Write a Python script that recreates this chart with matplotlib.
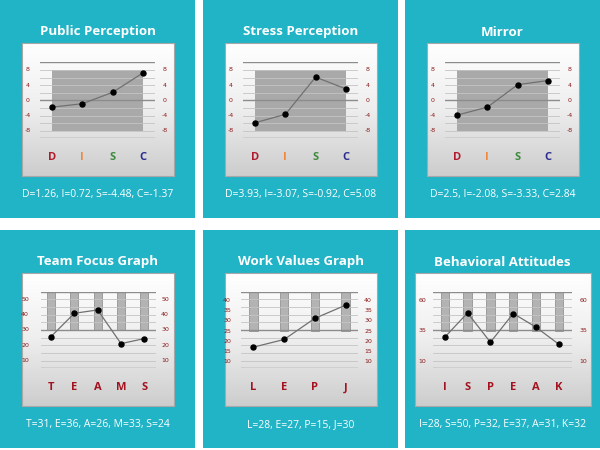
import numpy as np
import matplotlib
matplotlib.use("Agg")
import matplotlib.pyplot as plt
from matplotlib.patches import Rectangle
from matplotlib.transforms import blended_transform_factory

# ---- data ----
disc_letters = ["D", "I", "S", "C"]
disc_colors = ["#b01c2e", "#f0883a", "#3d8a3d", "#2b2b8f"]
disc_ticks = [8, 4, 0, -4, -8]

public_vals = [-1.8, -0.9, 2.1, 7.2]
stress_vals = [-5.9, -3.7, 6.1, 3.0]
mirror_vals = [-3.9, -1.8, 4.1, 5.2]

team_letters = ["T", "E", "A", "M", "S"]
team_vals = [25.7, 40.9, 43.1, 21.1, 24.4]
team_ticks = [50, 40, 30, 20, 10]

work_letters = ["L", "E", "P", "J"]
work_vals = [17.0, 20.8, 31.3, 37.8]
work_ticks = [40, 35, 30, 25, 20, 15, 10]

behav_letters = ["I", "S", "P", "E", "A", "K"]
behav_vals = [29.8, 49.9, 25.7, 49.4, 38.1, 24.0]
behav_ticks = [60, 35, 10]

titles = ["Public Perception", "Stress Perception", "Mirror",
          "Team Focus Graph", "Work Values Graph", "Behavioral Attitudes"]
captions = ["D=1.26, I=0.72, S=-4.48, C=-1.37",
            "D=3.93, I=-3.07, S=-0.92, C=5.08",
            "D=2.5, I=-2.08, S=-3.33, C=2.84",
            "T=31, E=36, A=26, M=33, S=24",
            "L=28, E=27, P=15, J=30",
            "I=28, S=50, P=32, E=37, A=31, K=32"]

TEAL = "#21b3c6"
TICK_RED = "#8b1a1a"
LETTER_RED = "#a3121f"

W, H = 600, 450
fig = plt.figure(figsize=(6, 4.5), dpi=100)
fig.patch.set_facecolor("white")


def px(x, y, w, h):
    return [x / W, 1 - (y + h) / H, w / W, h / H]


def panel(col_x, row_y, width, height, title, caption):
    fig.patches.append(Rectangle((col_x / W, 1 - (row_y + height) / H),
                                 width / W, height / H,
                                 transform=fig.transFigure,
                                 facecolor=TEAL, edgecolor="none", zorder=-5))
    fig.text((col_x + width / 2) / W, 1 - (row_y + 32) / H, title,
             color="white", fontsize=9.5, fontweight="bold",
             family="Open Sans", ha="center", va="center")
    fig.text((col_x + width / 2) / W, 1 - (row_y + 195) / H, caption,
             color="white", fontsize=7.5, family="Open Sans",
             ha="center", va="center")


def chart_box(x, y, w, h):
    bx = fig.add_axes(px(x, y, w, h))
    grad = np.linspace(0, 1, 200).reshape(-1, 1)
    bx.imshow(grad, aspect="auto", cmap=matplotlib.colors.LinearSegmentedColormap
              .from_list("g", ["#ffffff", "#eeeeee", "#cdcdcd"]),
              extent=(0, 1, 0, 1))
    bx.set_xlim(0, 1)
    bx.set_ylim(0, 1)
    for sp in bx.spines.values():
        sp.set_color("#a8a8a8")
        sp.set_linewidth(0.8)
    bx.set_xticks([])
    bx.set_yticks([])


def data_axes(x, y, w, h, xlim, ylim):
    ax = fig.add_axes(px(x, y, w, h))
    ax.set_facecolor("none")
    ax.set_xlim(*xlim)
    ax.set_ylim(*ylim)
    ax.axis("off")
    return ax


def grid_lines(ax, ylim, x0, x1):
    lo, hi = ylim
    for k in range(11):
        yv = lo + (hi - lo) * k / 10
        major = k in (0, 5, 10)
        ax.plot([x0, x1], [yv, yv], color="#8c8c8c" if major else "#c4c4c4",
                lw=1.0 if major else 0.6, zorder=3 if major else 2)


def tick_labels(ax, ticks, left_px, right_px, ax_x, ax_w):
    tr = blended_transform_factory(ax.transAxes, ax.transData)
    for t in ticks:
        for p in (left_px, right_px):
            ax.text((p - ax_x) / ax_w, t, str(t), transform=tr,
                    color=TICK_RED, fontsize=4.5, ha="center", va="center",
                    clip_on=False)


def line_points(ax, vals):
    xs = np.arange(len(vals))
    ax.plot(xs, vals, color="#707070", lw=0.9, zorder=5, clip_on=False)
    ax.plot(xs, vals, "o", color="black", ms=3.6, zorder=6, clip_on=False)


# ---- top row (DISC) ----
top_cols = [0, 203, 405]
top_vals = [public_vals, stress_vals, mirror_vals]
for i in range(3):
    cx = top_cols[i]
    panel(cx, 0, 195, 217.5, titles[i], captions[i])
    chart_box(cx + 22, 43, 152, 133)
    ax_x, ax_w = cx + 40, 115
    ylim = (-10, 10)
    xlim = (-0.4, 3.4)
    ax = data_axes(ax_x, 62.3, ax_w, 76, xlim, ylim)
    ax.add_patch(Rectangle((0, -8), 3, 16, facecolor="#a9a9a9",
                           edgecolor="none", zorder=1))
    grid_lines(ax, ylim, *xlim)
    tick_labels(ax, disc_ticks, cx + 28, cx + 165, ax_x, ax_w)
    line_points(ax, top_vals[i])
    trx = blended_transform_factory(ax.transData, fig.transFigure)
    for k, (lt, lc) in enumerate(zip(disc_letters, disc_colors)):
        ax.text(k, 1 - 157 / H, lt, transform=trx, color=lc, fontsize=8,
                fontweight="bold", family="Open Sans", ha="center",
                va="center")

# ---- bottom row ----
bottom = [
    (0, team_letters, team_vals, team_ticks, 30, (5, 55),
     22, 152, 40.5, 115.5, (-0.45, 4.5), 25, 165, 0.35),
    (203, work_letters, work_vals, work_ticks, 25, (6.5, 44.5),
     22, 152, 37.5, 118, (-0.42, 3.42), 24, 165, 0.27),
    (405, behav_letters, behav_vals, behav_ticks, 35, (4.2, 67.4),
     9.5, 176, 28.3, 138.4, (-0.5, 5.56), 17, 178, 0.36),
]
for j, (cx, letters, vals, ticks, thr, ylim, bx0, bw, axo, ax_w, xlim,
        lpx, rpx, bar_w) in enumerate(bottom):
    panel(cx, 230, 195, 218, titles[3 + j], captions[3 + j])
    chart_box(cx + bx0, 273.3, bw, 133)
    ax_x = cx + axo
    ax = data_axes(ax_x, 291.7, ax_w, 76.6, xlim, ylim)
    xs = np.arange(len(letters))
    ax.bar(xs, ylim[1] - thr, bottom=thr, width=bar_w, color="#b3b3b3",
           edgecolor="#939393", linewidth=0.6, zorder=1)
    grid_lines(ax, ylim, *xlim)
    tick_labels(ax, ticks, cx + lpx, cx + rpx, ax_x, ax_w)
    line_points(ax, vals)
    trx = blended_transform_factory(ax.transData, fig.transFigure)
    for k, lt in enumerate(letters):
        ax.text(k, 1 - 388 / H, lt, transform=trx, color=LETTER_RED,
                fontsize=8, fontweight="bold", family="Open Sans",
                ha="center", va="center")

fig.savefig("out.png", dpi=100)
